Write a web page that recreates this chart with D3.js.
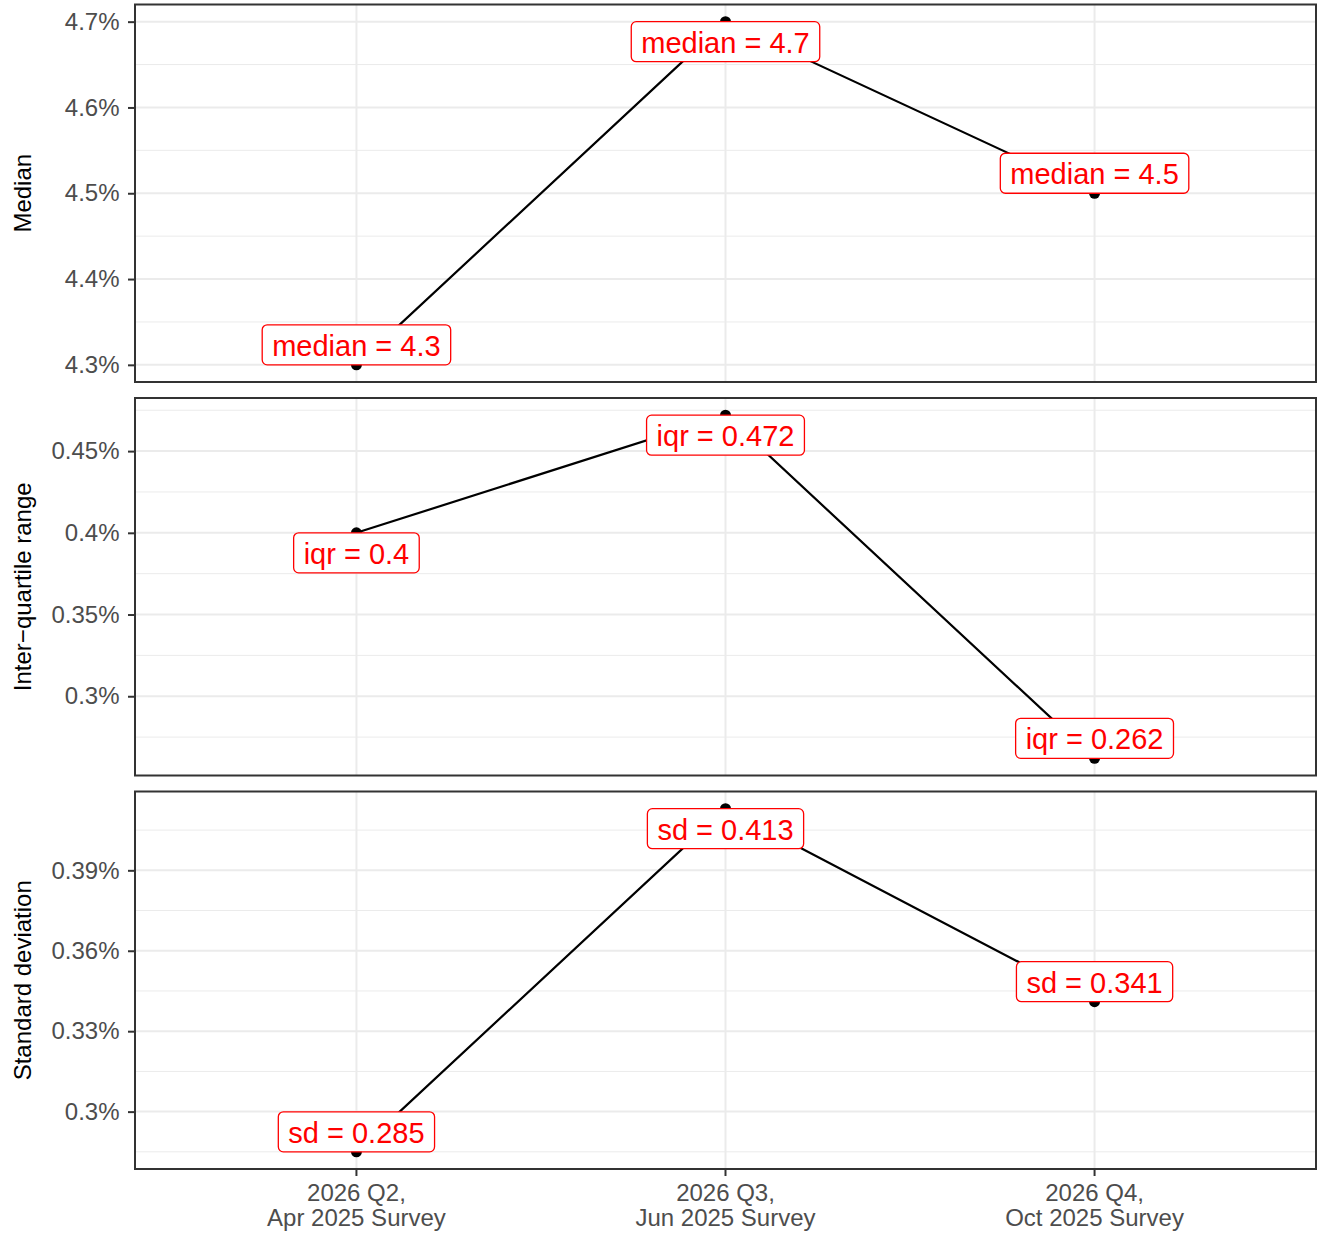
<!DOCTYPE html>
<html>
<head>
<meta charset="utf-8">
<script src="https://cdn.jsdelivr.net/npm/d3@7"></script>
<style>
  body { margin: 0; background: #fff; }
  svg { display: block; font-family: "Liberation Sans", Arial, sans-serif; }
</style>
</head>
<body>
<svg id="chart" width="1325" height="1236"></svg>
<script>
// survey rounds on the x axis (two-line labels)
var surveys = ["2026 Q2,\nApr 2025 Survey", "2026 Q3,\nJun 2025 Survey", "2026 Q4,\nOct 2025 Survey"];

// one series per facet
var medianVals = [4.3, 4.7, 4.5];
var iqrVals = [0.4, 0.472, 0.262];
var sdVals = [0.285, 0.413, 0.341];

var medianTicks = [4.3, 4.4, 4.5, 4.6, 4.7];
var iqrTicks = [0.3, 0.35, 0.4, 0.45];
var sdTicks = [0.3, 0.33, 0.36, 0.39];

var panels = [
  {title: "Median", key: "median", values: medianVals, ticks: medianTicks},
  {title: "Inter\u2212quartile range", key: "iqr", values: iqrVals, ticks: iqrTicks},
  {title: "Standard deviation", key: "sd", values: sdVals, ticks: sdTicks}
];

var left = 135, right = 1316;
var panelTop = 4.5, panelH = 377.5, panelGap = 16;
var labelFont = 29, tickFont = 24, titleFont = 24;

var svg = d3.select("#chart");

var x = d3.scalePoint()
  .domain(surveys)
  .range([left, right])
  .padding(0.6);

var fmt = d3.format("~g");

panels.forEach(function (p, i) {
  var top = panelTop + i * (panelH + panelGap);
  var bottom = top + panelH;
  var lo = d3.min(p.values), hi = d3.max(p.values);
  var pad = (hi - lo) * 0.05;
  var y = d3.scaleLinear()
    .domain([lo - pad, hi + pad])
    .range([bottom, top]);
  var mid = (lo - pad + hi + pad) / 2;

  var g = svg.append("g");

  // minor grid lines halfway between the breaks
  var step = p.ticks[1] - p.ticks[0];
  var minor = [];
  for (var k = -1; k < p.ticks.length; k++) {
    var m = p.ticks[0] + (k + 0.5) * step;
    if (m >= y.domain()[0] && m <= y.domain()[1]) minor.push(m);
  }
  g.selectAll("line.minor").data(minor).enter().append("line")
    .attr("x1", left).attr("x2", right)
    .attr("y1", function (d) { return y(d); })
    .attr("y2", function (d) { return y(d); })
    .attr("stroke", "#EBEBEB").attr("stroke-width", 1);

  g.selectAll("line.major").data(p.ticks).enter().append("line")
    .attr("x1", left).attr("x2", right)
    .attr("y1", function (d) { return y(d); })
    .attr("y2", function (d) { return y(d); })
    .attr("stroke", "#EBEBEB").attr("stroke-width", 2);

  g.selectAll("line.vgrid").data(surveys).enter().append("line")
    .attr("x1", function (d) { return x(d); })
    .attr("x2", function (d) { return x(d); })
    .attr("y1", top).attr("y2", bottom)
    .attr("stroke", "#EBEBEB").attr("stroke-width", 2);

  // y axis
  var yAxis = d3.axisLeft(y)
    .tickValues(p.ticks)
    .tickSize(7)
    .tickPadding(8.5)
    .tickFormat(function (d) { return fmt(+d.toFixed(4)) + "%"; });
  var ya = svg.append("g")
    .attr("transform", "translate(" + left + ",0)")
    .call(yAxis);
  ya.select(".domain").remove();
  ya.selectAll(".tick line").attr("stroke", "#333333").attr("stroke-width", 2);
  ya.selectAll(".tick text")
    .attr("fill", "#4D4D4D")
    .style("font-size", tickFont + "px")
    .style("font-family", "Liberation Sans, Arial, sans-serif");

  // axis title
  svg.append("text")
    .attr("transform", "translate(31," + ((top + bottom) / 2) + ") rotate(-90)")
    .attr("text-anchor", "middle")
    .style("font-size", titleFont + "px")
    .attr("fill", "#000")
    .text(p.title);

  // line + points
  var line = d3.line()
    .x(function (d, j) { return x(surveys[j]); })
    .y(function (d) { return y(d); });
  g.append("path")
    .datum(p.values)
    .attr("d", line)
    .attr("fill", "none")
    .attr("stroke", "#000")
    .attr("stroke-width", 2.2);

  g.selectAll("circle").data(p.values).enter().append("circle")
    .attr("cx", function (d, j) { return x(surveys[j]); })
    .attr("cy", function (d) { return y(d); })
    .attr("r", 5.5)
    .attr("fill", "#000");

  // labels, pushed inward like vjust = "inward"
  var boxH = 40, padX = 10;
  p.values.forEach(function (v, j) {
    var cx = x(surveys[j]);
    var cy = y(v);
    var boxTop = v > mid ? cy : cy - boxH;
    var lg = g.append("g");
    var rect = lg.append("rect");
    var t = lg.append("text")
      .attr("x", cx)
      .attr("y", boxTop + boxH / 2)
      .attr("dy", "0.38em")
      .attr("text-anchor", "middle")
      .style("font-size", labelFont + "px")
      .attr("fill", "#FF0000")
      .text(p.key + " = " + v);
    var tw = t.node().getComputedTextLength();
    rect.attr("x", cx - tw / 2 - padX)
      .attr("y", boxTop)
      .attr("width", tw + 2 * padX)
      .attr("height", boxH)
      .attr("rx", 5).attr("ry", 5)
      .attr("fill", "#fff")
      .attr("stroke", "#FF0000")
      .attr("stroke-width", 1.3);
  });

  // panel border on top
  g.append("rect")
    .attr("x", left).attr("y", top)
    .attr("width", right - left).attr("height", panelH)
    .attr("fill", "none")
    .attr("stroke", "#333333")
    .attr("stroke-width", 2);

  // x axis only under the last panel
  if (i === panels.length - 1) {
    var xa = svg.append("g");
    surveys.forEach(function (s) {
      xa.append("line")
        .attr("x1", x(s)).attr("x2", x(s))
        .attr("y1", bottom).attr("y2", bottom + 7)
        .attr("stroke", "#333333").attr("stroke-width", 2);
      var lines = s.split("\n");
      var tx = xa.append("text")
        .attr("text-anchor", "middle")
        .attr("fill", "#4D4D4D")
        .style("font-size", tickFont + "px");
      lines.forEach(function (ln, li) {
        tx.append("tspan")
          .attr("x", x(s))
          .attr("y", bottom + 32 + li * 25)
          .text(ln);
      });
    });
  }
});
</script>
</body>
</html>
